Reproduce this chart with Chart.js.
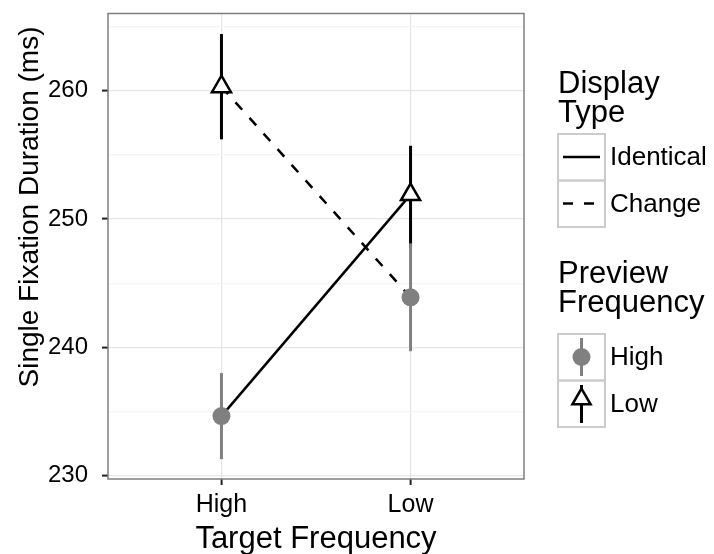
<!DOCTYPE html>
<html>
<head>
<meta charset="utf-8">
<script src="https://cdn.jsdelivr.net/npm/chart.js@4/dist/chart.umd.min.js"></script>
<style>
  html, body { margin: 0; padding: 0; background: #fff; }
  #wrap { width: 714px; height: 554px; }
</style>
</head>
<body>
<div id="wrap"><canvas id="fixChart" width="714" height="554"></canvas></div>
<script>
// data
const targetLevels = ['High', 'Low'];
const yTicks = [230, 240, 250, 260];

// preview frequency = High (grey circles)
const highPrevMean  = [234.65, 243.9];
const highPrevLower = [231.3, 239.7];
const highPrevUpper = [238.0, 248.1];

// preview frequency = Low (open triangles)
const lowPrevMean  = [260.3, 251.9];
const lowPrevLower = [256.2, 247.8];
const lowPrevUpper = [264.4, 255.7];

// display type lines: Identical = preview matches target, Change = mismatch
const identicalY = [highPrevMean[0], lowPrevMean[1]];
const changeY    = [lowPrevMean[0], highPrevMean[1]];

const FONT = '"Liberation Sans", Arial, Helvetica, sans-serif';
const GREY = '#808080';

const pts = (ys) => ys.map((y, i) => ({ x: i + 1, y: y }));

// error bars under everything else
const errorBars = {
  id: 'errorBars',
  beforeDatasetsDraw(chart) {
    const { ctx, scales: { x, y } } = chart;
    const draw = (lo, hi, color) => {
      ctx.save();
      ctx.strokeStyle = color;
      ctx.lineWidth = 3;
      lo.forEach((v, i) => {
        const px = x.getPixelForValue(i + 1);
        ctx.beginPath();
        ctx.moveTo(px, y.getPixelForValue(v));
        ctx.lineTo(px, y.getPixelForValue(hi[i]));
        ctx.stroke();
      });
      ctx.restore();
    };
    draw(lowPrevLower, lowPrevUpper, '#000');
    draw(highPrevLower, highPrevUpper, GREY);
  }
};

// panel border, axis titles, legend
const decor = {
  id: 'decor',
  afterDraw(chart) {
    const { ctx, chartArea: a } = chart;
    ctx.save();
    ctx.strokeStyle = '#7f7f7f';
    ctx.lineWidth = 1.5;
    ctx.strokeRect(a.left, a.top, a.right - a.left, a.bottom - a.top);

    ctx.fillStyle = '#000';
    ctx.font = '31px ' + FONT;
    ctx.textAlign = 'center';
    ctx.textBaseline = 'alphabetic';
    ctx.fillText('Target Frequency', (a.left + a.right) / 2, 548);

    ctx.save();
    ctx.translate(38, 207);
    ctx.rotate(-Math.PI / 2);
    ctx.font = '28px ' + FONT;
    ctx.fillText('Single Fixation Duration (ms)', 0, 0);
    ctx.restore();

    // legend
    const kx = 558, kw = 47, kh = 46.5;
    ctx.textAlign = 'left';
    ctx.font = '31px ' + FONT;
    ctx.fillText('Display', kx, 93);
    ctx.fillText('Type', kx, 122);
    ctx.fillText('Preview', kx, 283);
    ctx.fillText('Frequency', kx, 312);

    const box = (top) => {
      ctx.strokeStyle = '#cccccc';
      ctx.lineWidth = 2;
      ctx.strokeRect(kx, top, kw, kh);
    };
    const label = (t, top) => {
      ctx.fillStyle = '#000';
      ctx.font = '26px ' + FONT;
      ctx.textBaseline = 'middle';
      ctx.fillText(t, kx + kw + 5, top + kh / 2 + 1);
      ctx.textBaseline = 'alphabetic';
    };

    // display type keys
    box(134); box(180.5);
    ctx.strokeStyle = '#000';
    ctx.lineWidth = 2.5;
    ctx.beginPath();
    ctx.moveTo(kx + 5, 157); ctx.lineTo(kx + kw - 5, 157);
    ctx.stroke();
    ctx.setLineDash([10, 11]);
    ctx.beginPath();
    ctx.moveTo(kx + 5, 203.5); ctx.lineTo(kx + kw - 5, 203.5);
    ctx.stroke();
    ctx.setLineDash([]);
    label('Identical', 134);
    label('Change', 180.5);

    // preview frequency keys
    box(334); box(380.5);
    const cx = kx + kw / 2;
    ctx.strokeStyle = GREY;
    ctx.lineWidth = 3;
    ctx.beginPath(); ctx.moveTo(cx, 338); ctx.lineTo(cx, 376); ctx.stroke();
    ctx.fillStyle = GREY;
    ctx.beginPath(); ctx.arc(cx, 357, 9, 0, Math.PI * 2); ctx.fill();

    ctx.strokeStyle = '#000';
    ctx.beginPath(); ctx.moveTo(cx, 385); ctx.lineTo(cx, 423); ctx.stroke();
    const r = 10.5, ty = 399;
    ctx.fillStyle = '#fff';
    ctx.lineWidth = 2.5;
    ctx.lineJoin = 'miter';
    ctx.beginPath();
    ctx.moveTo(cx, ty - r);
    ctx.lineTo(cx + r * Math.sin(2 * Math.PI / 3), ty + r / 2);
    ctx.lineTo(cx - r * Math.sin(2 * Math.PI / 3), ty + r / 2);
    ctx.closePath();
    ctx.fill(); ctx.stroke();
    label('High', 334);
    label('Low', 380.5);
    ctx.restore();
  }
};

new Chart(document.getElementById('fixChart'), {
  type: 'scatter',
  data: {
    datasets: [
      {
        label: 'Preview High',
        data: pts(highPrevMean),
        pointStyle: 'circle',
        pointRadius: 9,
        pointBackgroundColor: GREY,
        pointBorderWidth: 0,
        order: 0
      },
      {
        label: 'Preview Low',
        data: pts(lowPrevMean),
        pointStyle: 'triangle',
        pointRadius: 11,
        pointBackgroundColor: '#fff',
        pointBorderColor: '#000',
        pointBorderWidth: 2.5,
        order: 0
      },
      {
        label: 'Identical',
        data: pts(identicalY),
        showLine: true,
        borderColor: '#000',
        borderWidth: 2.5,
        pointRadius: 0,
        order: 2
      },
      {
        label: 'Change',
        data: pts(changeY),
        showLine: true,
        borderColor: '#000',
        borderWidth: 2.5,
        borderDash: [10, 11],
        pointRadius: 0,
        order: 2
      }
    ]
  },
  options: {
    responsive: false,
    animation: false,
    layout: { padding: { top: 0, right: 190, bottom: 0, left: 0 } },
    plugins: {
      legend: { display: false },
      tooltip: { enabled: false }
    },
    scales: {
      x: {
        type: 'linear',
        min: 0.4,
        max: 2.6,
        afterBuildTicks: (s) => { s.ticks = targetLevels.map((_, i) => ({ value: i + 1 })); },
        afterFit: (s) => { s.height = 75; s.paddingLeft = 0; s.paddingRight = 0; },
        border: { display: false },
        grid: { color: '#e5e5e5', lineWidth: 1.2, tickColor: '#222', tickLength: 6, tickWidth: 2 },
        ticks: {
          color: '#000',
          font: { family: FONT, size: 25 },
          padding: 5,
          maxRotation: 0,
          callback: (v) => targetLevels[v - 1]
        }
      },
      y: {
        min: 229.75,
        max: 266,
        afterBuildTicks: (s) => {
          const t = [];
          yTicks.forEach(v => { t.push({ value: v }); t.push({ value: v + 5 }); });
          s.ticks = t.sort((a, b) => a.value - b.value);
        },
        afterFit: (s) => { s.width = 108; s.paddingTop = 13; s.paddingBottom = 0; },
        border: { display: false },
        grid: {
          color: (c) => (c.tick && c.tick.value % 10 === 0 ? '#e5e5e5' : '#f4f4f4'),
          tickColor: (c) => (c.tick && c.tick.value % 10 === 0 ? '#222' : 'rgba(0,0,0,0)'),
          lineWidth: 1.2,
          tickLength: 6,
          tickWidth: 2
        },
        ticks: {
          color: '#000',
          font: { family: FONT, size: 24 },
          padding: 14,
          callback: (v) => (yTicks.includes(v) ? String(v) : '')
        }
      }
    }
  },
  plugins: [errorBars, decor]
});
</script>
</body>
</html>
